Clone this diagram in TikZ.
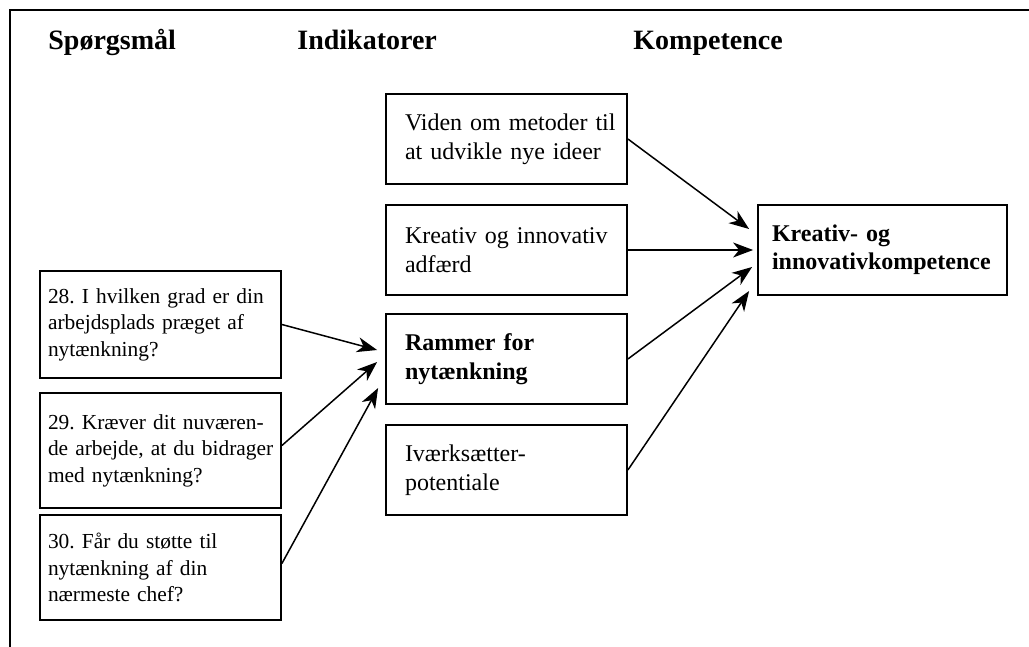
\documentclass[tikz,border=0pt]{standalone}
\usepackage{fontspec}
\setmainfont{Liberation Serif}
\usetikzlibrary{arrows.meta,calc}
\frenchspacing

\begin{document}
\begin{tikzpicture}[x=0.5pt, y=-0.5pt,
  box/.style={rectangle, draw=black, line width=0.9pt, fill=white, align=left,
    minimum width=120.5pt, minimum height=45pt},
  indbox/.style={box, inner xsep=9.5pt, text width=101.5pt, font=\fontsize{12}{14.5}\selectfont},
  qbox/.style={box, inner xsep=4pt, text width=112.5pt, font=\fontsize{10.7}{13.3}\selectfont},
  compbox/.style={box, minimum width=124.5pt, inner xsep=7pt, text width=110.5pt,
    font=\fontsize{12}{14}\selectfont\bfseries},
  head/.style={anchor=base west, inner sep=0pt, font=\fontsize{14}{17}\selectfont\bfseries},
  pil/.style={-{Stealth[length=10pt,width=7.5pt,inset=3pt]}, line width=0.75pt},
  ]
  \useasboundingbox (0,0) rectangle (1029,647);
  \draw[line width=0.7pt] (10,647) -- (10,10) -- (1029,10);

  %headings
  \node[head] (hspm) at (48,50) {Spørgsmål};
  \node[head] (hind) at (297,50) {Indikatorer};
  \node[head] (hkomp) at (633,50) {Kompetence};

  %indicators
  \node[indbox] (viden) at (506.5,139) {\mbox{Viden om metoder til}\\\mbox{at udvikle nye ideer}};
  \node[indbox] (kreativ) at (506.5,250) {\mbox{Kreativ og innovativ}\\adfærd};
  \node[indbox, font=\fontsize{12}{14.5}\selectfont\bfseries] (rammer) at (506.5,359) {Rammer for\\nytænkning};
  \node[indbox] (ivaerk) at (506.5,470) {Iværksætter-\\potentiale};

  %competence
  \node[compbox] (komp) at (882.5,250) {Kreativ- og\\\mbox{innovativkompetence}};

  %questions
  \node[qbox, minimum height=53.5pt] (q28) at (160.5,324.5) {\mbox{28. I hvilken grad er din}\\\mbox{arbejdsplads præget af}\\nytænkning?};
  \node[qbox, minimum height=57.5pt] (q29) at (160.5,450.5) {\mbox{29. Kræver dit nuværen-}\\\mbox{de arbejde, at du bidrager}\\\mbox{med nytænkning?}};
  \node[qbox, minimum height=52.5pt] (q30) at (160.5,567.5) {\mbox{30. Får du støtte til}\\\mbox{nytænkning af din}\\\mbox{nærmeste chef?}};

  %arrow ends
  \coordinate (r1) at ($(rammer.west)+(-8,-9)$);
  \coordinate (r2) at ($(rammer.west)+(-8,3)$);
  \coordinate (r3) at ($(rammer.west)+(-7,29)$);
  \coordinate (k1) at ($(komp.west)+(-8,-21)$);
  \coordinate (k2) at ($(komp.west)+(-4,0)$);
  \coordinate (k3) at ($(komp.west)+(-5,17)$);
  \coordinate (k4) at ($(komp.west)+(-8,41)$);

  %arrows
  \draw[pil] (q28.east) -- (r1);
  \draw[pil] ($(q29.east)+(0,-5)$) -- (r2);
  \draw[pil] ($(q30.east)+(0,-4)$) -- (r3);
  \draw[pil] (viden.east) -- (k1);
  \draw[pil] (kreativ.east) -- (k2);
  \draw[pil] (rammer.east) -- (k3);
  \draw[pil] (ivaerk.east) -- (k4);
\end{tikzpicture}
\end{document}
